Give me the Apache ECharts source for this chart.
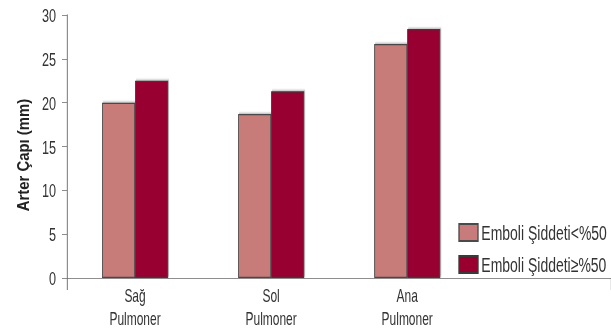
<!DOCTYPE html>
<html>
<head>
<meta charset="utf-8">
<script src="https://cdn.jsdelivr.net/npm/echarts@6/dist/echarts.min.js"></script>
<style>
html,body{margin:0;padding:0;background:#fff;overflow:hidden;}
#tu1{height:334px;transform-origin:0 0;}
</style>
</head>
<body>
<div id="tu1"></div>
<script>
// kategoriler (son boş kategori legend alanı için)
var categories = ['Sağ\nPulmoner', 'Sol\nPulmoner', 'Ana\nPulmoner', ''];
var seriesNames = ['Emboli Şiddeti<%50', 'Emboli Şiddeti≥%50'];
var lowData = [20.0, 18.7, 26.7, '-'];   // Emboli Şiddeti <%50
var highData = [22.5, 21.3, 28.4, '-'];  // Emboli Şiddeti >=%50
var yTicks = [0, 5, 10, 15, 20, 25, 30];
var yTitle = 'Arter Çapı (mm)';

// dar (condensed) yazı görünümü için grafik yatayda K kat geniş çiziliyor, css ile sıkıştırılıyor
var K = 1.5;
function sx(v) { return v * K; }

var font = '"Liberation Sans", Arial, sans-serif';
var dom = document.getElementById('tu1');
dom.style.width = sx(611) + 'px';
dom.style.transform = 'scaleX(' + (1 / K) + ')';

var myChart = echarts.init(dom, null, { renderer: 'svg' });
var option = {
    animation: false,
    textStyle: { fontFamily: font },
    grid: {
        left: sx(67),
        right: 0,
        top: 15,
        bottom: 56
    },
    legend: {
        orient: 'vertical',
        left: sx(455),
        top: 217,
        itemWidth: sx(19),
        itemHeight: 17,
        itemGap: 11,
        icon: 'rect',
        textStyle: { fontSize: 21, color: '#333', fontFamily: font },
        data: seriesNames
    },
    graphic: [{
        type: 'text',
        x: sx(23),
        y: 155,
        rotation: Math.PI / 2,
        scaleX: 0.875,
        scaleY: K,
        style: {
            text: yTitle,
            font: 'bold 17px ' + font,
            fill: '#222',
            align: 'center',
            verticalAlign: 'middle'
        }
    }],
    xAxis: {
        type: 'category',
        data: categories,
        axisLine: { lineStyle: { color: '#777', width: 1 } },
        axisTick: {
            show: true,
            length: 12,
            lineStyle: { color: '#777', width: K },
            interval: function (index) { return index === 0; }
        },
        axisLabel: {
            fontSize: 18,
            lineHeight: 23,
            color: '#333',
            margin: 6,
            interval: 0
        }
    },
    yAxis: {
        type: 'value',
        min: yTicks[0],
        max: yTicks[yTicks.length - 1],
        interval: 5,
        splitLine: { show: false },
        axisLine: { show: true, lineStyle: { color: '#777', width: K } },
        axisTick: { show: true, length: sx(5), lineStyle: { color: '#777', width: 1 } },
        axisLabel: { fontSize: 19, color: '#333', margin: sx(11) }
    },
    series: [
        {
            name: seriesNames[0],
            type: 'bar',
            barWidth: sx(33),
            barGap: '0%',
            data: lowData,
            itemStyle: {
                color: '#C77B7A',
                borderColor: '#4a4a4a',
                borderWidth: 1.3,
                shadowColor: 'rgba(0,0,0,0.3)',
                shadowBlur: 2,
                shadowOffsetX: 1.5,
                shadowOffsetY: -1
            }
        },
        {
            name: seriesNames[1],
            type: 'bar',
            barWidth: sx(33),
            barGap: '0%',
            data: highData,
            itemStyle: {
                color: '#990030',
                borderColor: '#3a3a3a',
                borderWidth: 1.3,
                shadowColor: 'rgba(0,0,0,0.3)',
                shadowBlur: 2,
                shadowOffsetX: 1.5,
                shadowOffsetY: -1
            }
        }
    ]
};
myChart.setOption(option);
</script>
</body>
</html>
